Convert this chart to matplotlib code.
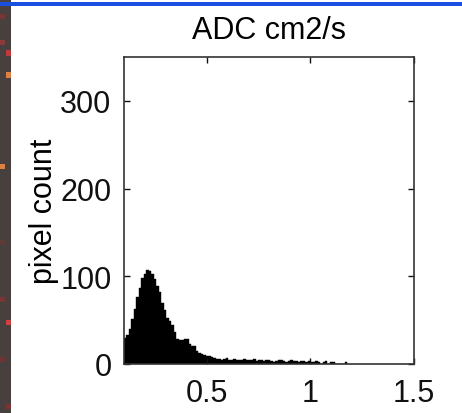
import matplotlib
matplotlib.use("Agg")
import matplotlib.pyplot as plt
import numpy as np
from matplotlib.patches import Rectangle

# ---- data ----
bin_start = 0.1
bin_width = 0.012
counts = [30, 33, 40, 51, 63, 76, 87, 98, 103, 107, 106, 103, 97, 89, 82, 70,
          61, 53, 49, 44, 36, 28, 27, 27, 29, 28, 23, 21, 20, 15, 13, 11, 10,
          9, 9, 8, 7, 6,
          6, 5, 6, 7, 5, 5, 6, 4, 5, 5, 6, 4, 4, 5, 6, 3, 4, 4, 3, 5, 4, 3,
          2, 3, 4, 4, 3, 2, 3, 4, 3, 3, 2, 3, 3, 2, 3, 2, 2, 3, 2, 0, 2, 3,
          0, 2, 2, 0, 0, 0, 0, 2]
xticks = [0.5, 1, 1.5]
xticklabels = ["0.5", "1", "1.5"]
yticks = [0, 100, 200, 300]
yticklabels = ["0", "100", "200", "300"]
title = "ADC cm2/s"
ylabel = "pixel count"

plt.rcParams['font.family'] = ['Liberation Sans', 'DejaVu Sans']

W, H = 462, 414
fig = plt.figure(figsize=(W / 100, H / 100), dpi=100, facecolor="white")

# decorative frame elements (dark strip at left, blue line at top)
fig.patches.append(Rectangle((0, 0), 11 / W, 1, transform=fig.transFigure,
                             facecolor="#48403e", edgecolor="none", zorder=0))
fig.patches.append(Rectangle((0, 1 - 7 / H), 1, 4 / H, transform=fig.transFigure,
                             facecolor="#1a4fe0", edgecolor="none", zorder=1))
marks = [(17, 0, "#7a3434"), (43, 0, "#8a3a3a"), (54, 6, "#c03838"),
         (76, 6, "#e08040"), (167, 0, "#e08040"), (243, 0, "#5e3a38"),
         (300, 0, "#7a3434"), (323, 6, "#d04040"), (360, 0, "#6e3434"),
         (407, 6, "#7a3434")]
for y, x, c in marks:
    fig.patches.append(Rectangle((x / W, 1 - (y + 2.5) / H), 5 / W, 5 / H,
                                 transform=fig.transFigure, facecolor=c,
                                 edgecolor="none", zorder=1))

ax = fig.add_axes([124 / W, (H - 365) / H, (413.5 - 124) / W, (365 - 58) / H])
edges = bin_start + bin_width * np.arange(len(counts))
ax.bar(edges, counts, width=bin_width, align="edge", color="black",
       edgecolor="black", linewidth=0.3)

ax.set_xlim(0.1, 1.5)
ax.set_ylim(0, 350)
ax.set_xticks(xticks)
ax.set_xticklabels(xticklabels)
ax.set_yticks(yticks)
ax.set_yticklabels(yticklabels)
ax.tick_params(direction="in", length=4, width=1, top=True, right=True,
               labelsize=22, colors="#111111")
ax.tick_params(axis="x", pad=10)
ax.tick_params(axis="y", pad=9)
for s in ax.spines.values():
    s.set_linewidth(1.2)
    s.set_color("#333333")
ax.set_title(title, fontsize=22, pad=14)
ax.set_ylabel(ylabel, fontsize=22, labelpad=1)

fig.savefig("out.png", dpi=100, facecolor="white")
